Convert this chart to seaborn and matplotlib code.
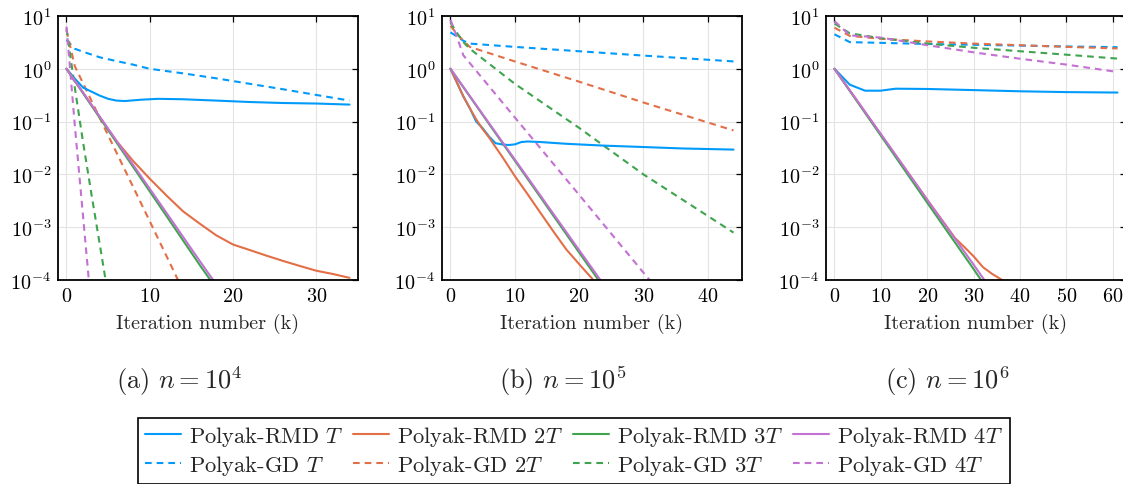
import matplotlib
matplotlib.use('Agg')
import matplotlib.pyplot as plt
import seaborn as sns
from matplotlib.lines import Line2D
from matplotlib.ticker import NullLocator

# Julia-style palette
colors = ['#009AFA', '#E36F47', '#3EA44E', '#C371D2']
rmd_labels = ['Polyak-RMD $T$', 'Polyak-RMD 2$T$', 'Polyak-RMD 3$T$', 'Polyak-RMD 4$T$']
gd_labels = ['Polyak-GD $T$', 'Polyak-GD 2$T$', 'Polyak-GD 3$T$', 'Polyak-GD 4$T$']
captions = [r'(a) $n = 10^4$', r'(b) $n = 10^5$', r'(c) $n = 10^6$']

# ---- (a) n = 1e4 ----
a_rmd1_x = [0, 1, 2, 3, 4, 5, 6, 7, 9, 11, 14, 18, 22, 26, 30, 34]
a_rmd1 = [1.0, 0.65, 0.44, 0.37, 0.31, 0.27, 0.25, 0.245, 0.26, 0.27, 0.265, 0.25, 0.235, 0.225, 0.22, 0.21]
a_rmd2_x = [0, 2, 4, 6, 8, 10, 12, 14, 16, 18, 20, 22, 24, 26, 28, 30, 32, 34]
a_rmd2 = [1.0, 0.35, 0.12, 0.043, 0.018, 8.3e-3, 4.0e-3, 2.0e-3, 1.17e-3, 7.0e-4, 4.7e-4,
          3.7e-4, 2.9e-4, 2.3e-4, 1.85e-4, 1.5e-4, 1.3e-4, 1.1e-4]
a_rmd3_x = [0, 4, 8, 12, 16, 18]
a_rmd3 = [1.0, 0.118, 0.0139, 1.64e-3, 1.93e-4, 6.9e-5]
a_rmd4_x = [0, 4, 8, 12, 16, 18]
a_rmd4 = [1.0, 0.124, 0.0152, 1.88e-3, 2.3e-4, 8.2e-5]
a_gd1_x = [0, 1, 2, 4, 6, 8, 10, 14, 18, 22, 26, 30, 34]
a_gd1 = [3.5, 2.4, 2.1, 1.65, 1.4, 1.2, 1.0, 0.82, 0.66, 0.52, 0.41, 0.32, 0.25]
a_gd2_x = [0, 1, 4, 7, 10, 13, 14]
a_gd2 = [5.4, 1.12, 0.117, 0.0123, 1.3e-3, 1.35e-4, 6.3e-5]
a_gd3_x = [0, 1, 2, 3, 4, 5]
a_gd3 = [5.8, 0.44, 0.04, 4.2e-3, 4.7e-4, 5.1e-5]
a_gd4_x = [0, 1, 2, 3]
a_gd4 = [6.3, 0.085, 1.55e-3, 2.8e-5]

# ---- (b) n = 1e5 ----
b_rmd1_x = [0, 1, 2, 3, 4, 5, 6, 7, 8, 9, 10, 11, 12, 14, 18, 24, 30, 36, 44]
b_rmd1 = [1.0, 0.55, 0.30, 0.18, 0.10, 0.075, 0.052, 0.039, 0.037, 0.036, 0.037, 0.041,
          0.042, 0.041, 0.038, 0.035, 0.033, 0.031, 0.0295]
b_rmd2_x = [0, 1, 2, 3, 4, 5, 6, 7, 8, 10, 12, 14, 16, 18, 20, 22, 23]
b_rmd2 = [1.0, 0.55, 0.30, 0.18, 0.11, 0.072, 0.05, 0.033, 0.022, 9.3e-3, 4.2e-3, 1.86e-3,
          8.3e-4, 3.8e-4, 2.0e-4, 1.07e-4, 7.6e-5]
b_rmd3_x = [0, 6, 12, 18, 24]
b_rmd3 = [1.0, 0.09, 8.2e-3, 7.4e-4, 6.7e-5]
b_rmd4_x = [0, 6, 12, 18, 24]
b_rmd4 = [1.0, 0.093, 8.7e-3, 8.1e-4, 7.6e-5]
b_gd1_x = [0, 1, 2, 3, 10, 20, 30, 44]
b_gd1 = [4.9, 4.1, 3.4, 3.0, 2.6, 2.15, 1.78, 1.38]
b_gd2_x = [0, 1, 2, 3, 10, 20, 30, 44]
b_gd2 = [6.5, 4.6, 3.4, 2.6, 1.38, 0.57, 0.23, 0.068]
b_gd3_x = [0, 1, 2, 3, 10, 20, 30, 44]
b_gd3 = [7.5, 4.8, 3.2, 2.4, 0.52, 0.076, 0.01, 7.9e-4]
b_gd4_x = [0, 1, 2, 10, 20, 32]
b_gd4 = [8.5, 4.0, 1.8, 0.12, 4.1e-3, 7e-5]

# ---- (c) n = 1e6 ----
c_rmd1_x = [0, 3.3, 6.6, 9.9, 13.2, 20, 30, 40, 50, 61]
c_rmd1 = [1.0, 0.5, 0.385, 0.385, 0.42, 0.415, 0.395, 0.375, 0.362, 0.355]
c_rmd2_x = [0, 10, 20, 26, 28, 30, 32, 34, 37]
c_rmd2 = [1.0, 0.057, 3.3e-3, 6.2e-4, 4.2e-4, 2.8e-4, 1.75e-4, 1.3e-4, 9e-5]
c_rmd3_x = [0, 10, 20, 30, 33]
c_rmd3 = [1.0, 0.054, 2.9e-3, 1.6e-4, 6.6e-5]
c_rmd4_x = [0, 10, 20, 30, 33]
c_rmd4 = [1.0, 0.058, 3.3e-3, 1.94e-4, 8.2e-5]
c_gd1_x = [0, 3.3, 10, 20, 30, 40, 50, 61]
c_gd1 = [4.5, 3.2, 3.1, 2.95, 2.85, 2.75, 2.65, 2.57]
c_gd2_x = [0, 3.3, 10, 20, 30, 40, 50, 61]
c_gd2 = [6.0, 4.2, 3.7, 3.3, 3.0, 2.8, 2.6, 2.43]
c_gd3_x = [0, 3.3, 10, 20, 30, 40, 50, 61]
c_gd3 = [7.2, 4.7, 3.8, 3.0, 2.5, 2.15, 1.85, 1.56]
c_gd4_x = [0, 3.3, 10, 20, 30, 40, 50, 61]
c_gd4 = [8.0, 4.3, 3.9, 2.8, 2.05, 1.55, 1.2, 0.87]

panels = [
    dict(rmd=[(a_rmd1_x, a_rmd1), (a_rmd2_x, a_rmd2), (a_rmd3_x, a_rmd3), (a_rmd4_x, a_rmd4)],
         gd=[(a_gd1_x, a_gd1), (a_gd2_x, a_gd2), (a_gd3_x, a_gd3), (a_gd4_x, a_gd4)],
         xlim=(-1.02, 35.02), xticks=[0, 10, 20, 30]),
    dict(rmd=[(b_rmd1_x, b_rmd1), (b_rmd2_x, b_rmd2), (b_rmd3_x, b_rmd3), (b_rmd4_x, b_rmd4)],
         gd=[(b_gd1_x, b_gd1), (b_gd2_x, b_gd2), (b_gd3_x, b_gd3), (b_gd4_x, b_gd4)],
         xlim=(-1.32, 45.32), xticks=[0, 10, 20, 30, 40]),
    dict(rmd=[(c_rmd1_x, c_rmd1), (c_rmd2_x, c_rmd2), (c_rmd3_x, c_rmd3), (c_rmd4_x, c_rmd4)],
         gd=[(c_gd1_x, c_gd1), (c_gd2_x, c_gd2), (c_gd3_x, c_gd3), (c_gd4_x, c_gd4)],
         xlim=(-1.83, 62.83), xticks=[0, 10, 20, 30, 40, 50, 60]),
]

sns.set_theme(style='white')
plt.rcParams.update({
    'font.family': 'serif',
    'font.serif': ['cmr10'],
    'mathtext.fontset': 'cm',
    'axes.formatter.use_mathtext': True,
    'axes.unicode_minus': True,
})

W, H = 1123, 485
fig = plt.figure(figsize=(W / 100, H / 100), dpi=100)
lefts = [58, 442, 826]
DASH = (3.2, 2.4)
LW = 1.5

for i, p in enumerate(panels):
    ax = fig.add_axes([lefts[i] / W, 1 - 281 / H, 300 / W, 264 / H])
    # GD drawn first, RMD on top
    for (xs, ys), c in zip(p['gd'], colors):
        sns.lineplot(x=xs, y=ys, ax=ax, color=c, lw=LW)
        ax.lines[-1].set_dashes(DASH)
    for (xs, ys), c in zip(p['rmd'], colors):
        sns.lineplot(x=xs, y=ys, ax=ax, color=c, lw=LW)
    ax.set_yscale('log')
    ax.set_ylim(1e-4, 1e1)
    ax.set_yticks([1e-4, 1e-3, 1e-2, 1e-1, 1e0, 1e1])
    ax.yaxis.set_minor_locator(NullLocator())
    ax.set_xlim(*p['xlim'])
    ax.set_xticks(p['xticks'])
    ax.grid(True, color='#e4e4e4', lw=0.8)
    ax.set_axisbelow(True)
    for s in ax.spines.values():
        s.set_color('black')
        s.set_linewidth(1.3)
    ax.tick_params(direction='in', top=True, right=True, length=4.5, width=0.9,
                   colors='black', labelsize=14.5, pad=5)
    ax.set_xlabel('Iteration number (k)', fontsize=14.5, labelpad=6)
    ax.set_ylabel('')
    fig.text((lefts[i] + 121) / W, 1 - 381 / H, captions[i], ha='center', va='center',
             fontsize=19)

handles, labels = [], []
for c, lr, lg in zip(colors, rmd_labels, gd_labels):
    handles.append(Line2D([], [], color=c, lw=LW))
    labels.append(lr)
    h = Line2D([], [], color=c, lw=LW)
    h.set_dashes(DASH)
    handles.append(h)
    labels.append(lg)

leg = fig.legend(handles, labels, ncol=4, loc='center', bbox_to_anchor=(574 / W, 1 - 451.5 / H),
                 frameon=True, fancybox=False, edgecolor='black', framealpha=1, fontsize=16.2,
                 handlelength=1.6, handletextpad=0.35, columnspacing=0.45, borderpad=0.3,
                 labelspacing=0.2, borderaxespad=0)
leg.get_frame().set_linewidth(1.2)

fig.savefig('out.png', dpi=100)
